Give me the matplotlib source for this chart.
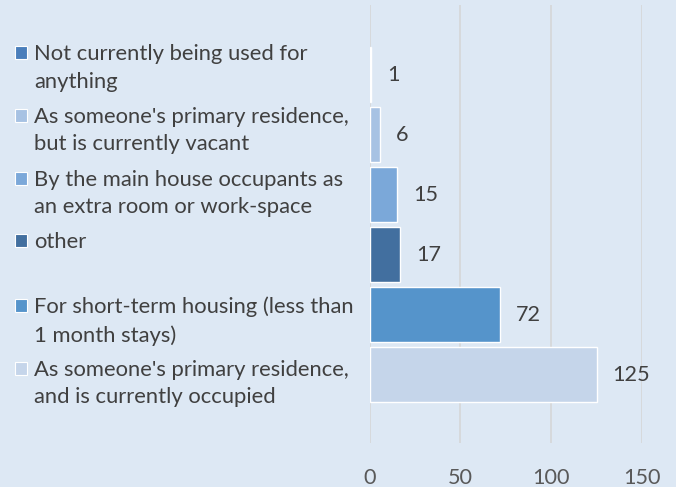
import numpy as np
import matplotlib
matplotlib.use("Agg")
import matplotlib.pyplot as plt
from matplotlib.patches import Rectangle

# ---------------------------------------------------------------
# DATA
# ---------------------------------------------------------------
labels = [
    "Not currently being used for\nanything",
    "As someone's primary residence,\nbut is currently vacant",
    "By the main house occupants as\nan extra room or work-space",
    "other",
    "For short-term housing (less than\n1 month stays)",
    "As someone's primary residence,\nand is currently occupied",
]
counts = [1, 6, 15, 17, 72, 125]
xticks = [0, 50, 100, 150]

colors = ['#4a7ebb', '#a7c2e3', '#7ba8d9', '#426f9f', '#5594cb', '#c5d5ea']
bg = '#dde8f4'
text_col = '#404040'

plt.rcParams['font.family'] = ['Lato', 'DejaVu Sans']

W, H = 676, 487
fig = plt.figure(figsize=(W / 100, H / 100), dpi=100, facecolor=bg)
ax = fig.add_axes([369.5 / W, 1 - 443 / H, (642 - 369.5) / W, 438 / H])
ax.set_facecolor(bg)

ypos = np.arange(len(counts))[::-1]
bars = ax.barh(ypos, counts, height=0.917, color=colors,
               edgecolor='white', linewidth=1, zorder=3)

for y, v in zip(ypos, counts):
    ax.annotate(str(v), (v, y), xytext=(11.5, 0), textcoords='offset points',
                ha='left', va='center', fontsize=15.6, color=text_col,
                clip_on=False)

ax.set_xlim(0, 150)
ax.set_ylim(-1.14, 6.16)
ax.set_xticks(xticks)
ax.set_yticks([])
ax.grid(axis='x', color='#d6d9dc', linewidth=1.4, zorder=0)
for s in ax.spines.values():
    s.set_visible(False)
ax.tick_params(axis='x', length=0, pad=17.8, labelsize=15.6, labelcolor='#595959')

# legend on the left, drawn by hand so markers sit on the first line
y0 = 52.5
step = 62.8
for i, (lab, c) in enumerate(zip(labels, colors)):
    yc = y0 + i * step
    if i >= 4:
        yc += 1.5
    fig.add_artist(Rectangle((15 / W, 1 - (yc + 6.5) / H), 12 / W, 13 / H,
                             transform=fig.transFigure, facecolor=c,
                             edgecolor='white', linewidth=0.8))
    fig.text(34 / W, 1 - (yc - 8.5) / H, lab, ha='left', va='top',
             fontsize=15.8, color=text_col, linespacing=1.47)

fig.savefig('out.png', dpi=100, facecolor=bg)
